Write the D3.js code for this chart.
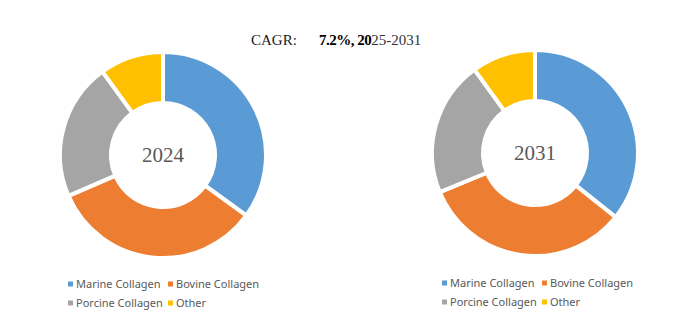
<!DOCTYPE html>
<html><head><meta charset="utf-8">
<script src="https://cdn.jsdelivr.net/npm/d3@7"></script>
<style>body{margin:0;background:#fff}svg{display:block}</style>
</head><body>
<script>
const categories = ["Marine Collagen","Bovine Collagen","Porcine Collagen","Other"];
const years = ["2024","2031"];
const values2024 = [35.0, 33.5, 21.5, 10.0];
const values2031 = [35.7, 33.1, 21.2, 10.0];
const colors = ["#5B9BD5","#ED7D31","#A5A5A5","#FFC000"];
const cagrLabel = "CAGR:";
const cagrBold = "7.2%, 20";
const cagrRest = "25-2031";

const W = 698, H = 323;
const svg = d3.select("body").append("svg").attr("width", W).attr("height", H);

// title
svg.append("text").attr("x", 251).attr("y", 45)
  .attr("font-family", "Liberation Serif, serif").attr("font-size", 15).attr("fill", "#1a1a1a")
  .text(cagrLabel);
const t = svg.append("text").attr("x", 319).attr("y", 45)
  .attr("font-family", "Liberation Serif, serif").attr("font-size", 15);
t.append("tspan").attr("font-weight", "bold").attr("fill", "#000").attr("letter-spacing", -0.5).text(cagrBold);
t.append("tspan").attr("fill", "#333").text(cagrRest);

const pie = d3.pie().sort(null).value(d => d);
const arc = d3.arc().innerRadius(52).outerRadius(103);
const color = d3.scaleOrdinal().domain(categories).range(colors);

const charts = [
  {year: years[0], values: values2024, cx: 163, cy: 155, lx: 68, ly: 284},
  {year: years[1], values: values2031, cx: 535, cy: 153, lx: 442, ly: 283}
];

charts.forEach(c => {
  const g = svg.append("g").attr("transform", `translate(${c.cx},${c.cy})`);
  g.selectAll("path").data(pie(c.values)).join("path")
    .attr("d", arc)
    .attr("fill", (d, i) => color(categories[i]))
    .attr("stroke", "#fff").attr("stroke-width", 4).attr("stroke-linejoin", "miter");
  g.append("text").attr("text-anchor", "middle").attr("y", 7)
    .attr("font-family", "Liberation Serif, serif").attr("font-size", 21).attr("fill", "#595959")
    .text(c.year);

  const lg = svg.append("g").attr("transform", `translate(${c.lx},${c.ly})`);
  const pos = [[0,0],[100,0],[0,19],[100,19]];
  categories.forEach((cat, i) => {
    const item = lg.append("g").attr("transform", `translate(${pos[i][0]},${pos[i][1]})`);
    item.append("rect").attr("x", 0).attr("y", -2.5).attr("width", 5).attr("height", 5).attr("fill", color(cat));
    item.append("text").attr("x", 8).attr("y", 4)
      .attr("font-family", "Noto Sans, sans-serif").attr("font-size", 11).attr("fill", "#595959")
      .text(cat);
  });
});
</script>
</body></html>
